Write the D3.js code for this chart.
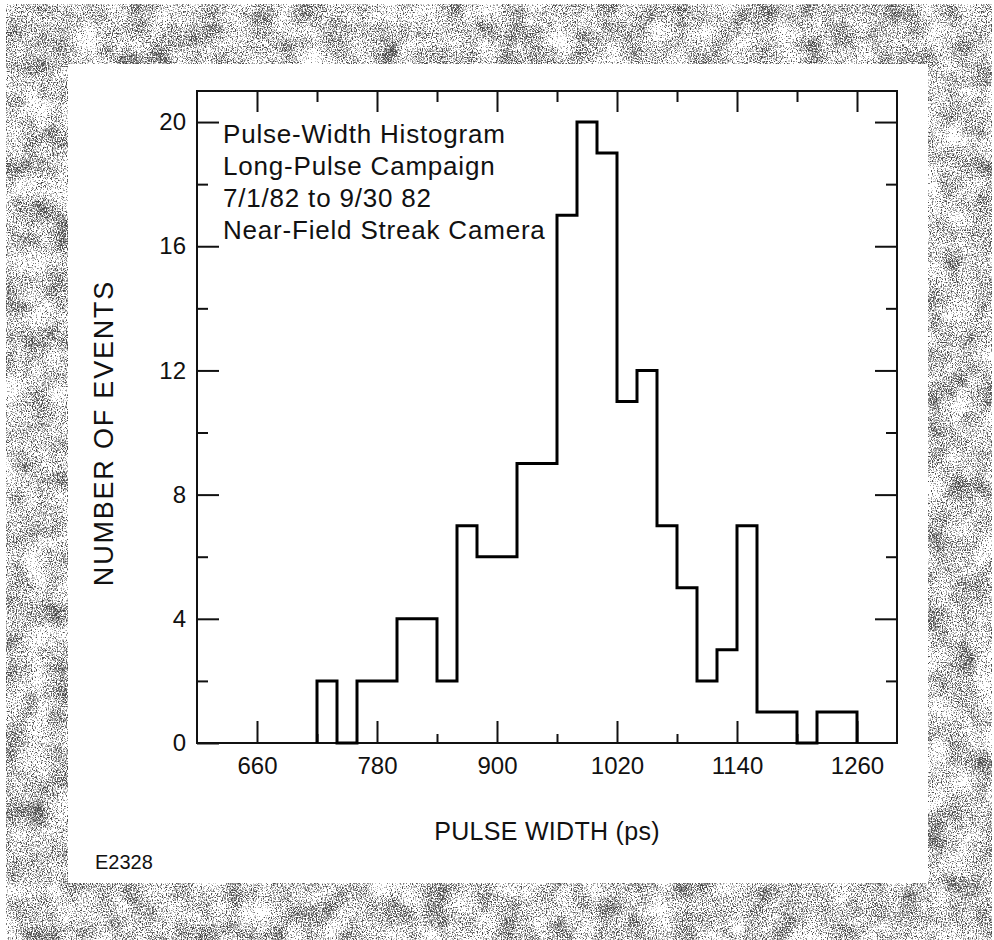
<!DOCTYPE html>
<html>
<head>
<meta charset="utf-8">
<script src="https://cdn.jsdelivr.net/npm/d3@7"></script>
<style>
  html, body { margin: 0; padding: 0; background: #fff; }
  text { font-family: "Liberation Sans", Arial, sans-serif; fill: #111; }
</style>
</head>
<body>
<div id="chart"></div>
<script>
const width = 994;
const height = 940;

// histogram bins: 20 ps wide, start value of each bin
const binStarts = [600, 620, 640, 660, 680, 700, 720, 740, 760, 780, 800, 820, 840, 860, 880, 900, 920, 940,
  960, 980, 1000, 1020, 1040, 1060, 1080, 1100, 1120, 1140, 1160, 1180, 1200, 1220, 1240, 1260, 1280];
const counts = [0, 0, 0, 0, 0, 0, 2, 0, 2, 2, 4, 4, 2, 7, 6, 6, 9, 9,
  17, 20, 19, 11, 12, 7, 5, 2, 3, 7, 1, 1, 0, 1, 1, 0, 0];
const binWidth = 20;

const xMajor = [660, 780, 900, 1020, 1140, 1260];
const xMinor = [720, 840, 960, 1080, 1200];
const yMajor = [0, 4, 8, 12, 16, 20];
const yMinor = [2, 6, 10, 14, 18];
const titleLines = ['Pulse-Width Histogram', 'Long-Pulse Campaign', '7/1/82 to 9/30 82', 'Near-Field Streak Camera'];

const plot = {left: 197, right: 897, top: 91, bottom: 743};

const svg = d3.select('#chart').append('svg')
  .attr('width', width)
  .attr('height', height);

// speckled grey border like the scanned page
const defs = svg.append('defs');
const f = defs.append('filter').attr('id', 'speckle')
  .attr('x', 0).attr('y', 0).attr('width', 1).attr('height', 1)
  .attr('color-interpolation-filters', 'sRGB');
f.append('feTurbulence').attr('type', 'fractalNoise').attr('baseFrequency', 0.8)
  .attr('numOctaves', 2).attr('seed', 3).attr('result', 'fine');
f.append('feTurbulence').attr('type', 'fractalNoise').attr('baseFrequency', 0.04)
  .attr('numOctaves', 2).attr('seed', 9).attr('result', 'coarse');
f.append('feComposite').attr('in', 'fine').attr('in2', 'coarse').attr('operator', 'arithmetic')
  .attr('k1', 0).attr('k2', 0.8).attr('k3', 0.3).attr('k4', -0.05).attr('result', 'mix');
f.append('feColorMatrix').attr('in', 'mix').attr('type', 'matrix')
  .attr('values', '0 0 0 0 0  0 0 0 0 0  0 0 0 0 0  4.5 0 0 0 -1.8').attr('result', 'a');
const ct = f.append('feComponentTransfer').attr('in', 'a');
ct.append('feFuncA').attr('type', 'discrete').attr('tableValues', '0 0.2 0.38 0.52 0.7');

svg.append('rect').attr('width', width).attr('height', height).attr('fill', '#fff');
svg.append('rect').attr('x', 6).attr('y', 4).attr('width', width - 8).attr('height', height - 4)
  .attr('fill', '#000').attr('filter', 'url(#speckle)');
svg.append('rect').attr('x', 68).attr('y', 64).attr('width', 860).attr('height', 819).attr('fill', '#fff');

const x = d3.scaleLinear().domain([600, 1300]).range([plot.left, plot.right]);
const y = d3.scaleLinear().domain([0, 21]).range([plot.bottom, plot.top]);

const g = svg.append('g');

function styleAxis(sel) {
  sel.select('.domain').remove();
  sel.selectAll('line').attr('stroke', '#111').attr('stroke-width', 2);
  sel.selectAll('text').attr('font-size', 24).attr('fill', '#111')
    .style('font-family', '"Liberation Sans", Arial, sans-serif');
}

// bottom
g.append('g').attr('transform', `translate(0,${plot.bottom})`)
  .call(d3.axisBottom(x).tickValues(xMajor).tickSize(-22).tickPadding(14).tickFormat(d3.format('d')))
  .call(styleAxis);
g.append('g').attr('transform', `translate(0,${plot.bottom})`)
  .call(d3.axisBottom(x).tickValues(xMinor).tickSize(-9).tickFormat(''))
  .call(styleAxis);
// top
g.append('g').attr('transform', `translate(0,${plot.top})`)
  .call(d3.axisTop(x).tickValues(xMajor).tickSize(-21).tickFormat(''))
  .call(styleAxis);
g.append('g').attr('transform', `translate(0,${plot.top})`)
  .call(d3.axisTop(x).tickValues(xMinor).tickSize(-11).tickFormat(''))
  .call(styleAxis);
// left
g.append('g').attr('transform', `translate(${plot.left},0)`)
  .call(d3.axisLeft(y).tickValues(yMajor).tickSize(-22).tickPadding(11).tickFormat(d3.format('d')))
  .call(styleAxis);
g.append('g').attr('transform', `translate(${plot.left},0)`)
  .call(d3.axisLeft(y).tickValues(yMinor).tickSize(-11).tickFormat(''))
  .call(styleAxis);
// right
g.append('g').attr('transform', `translate(${plot.right},0)`)
  .call(d3.axisRight(y).tickValues(yMajor.filter(d => d > 0)).tickSize(-22).tickFormat(''))
  .call(styleAxis);
g.append('g').attr('transform', `translate(${plot.right},0)`)
  .call(d3.axisRight(y).tickValues(yMinor).tickSize(-11).tickFormat(''))
  .call(styleAxis);

g.append('rect')
  .attr('x', plot.left).attr('y', plot.top)
  .attr('width', plot.right - plot.left).attr('height', plot.bottom - plot.top)
  .attr('fill', 'none').attr('stroke', '#111').attr('stroke-width', 2);

// histogram outline, from the first to the last non-empty bin
const first = counts.findIndex(c => c > 0);
const last = counts.length - 1 - [...counts].reverse().findIndex(c => c > 0);
const pts = [[binStarts[first], 0]];
for (let i = first; i <= last; i++) pts.push([binStarts[i], counts[i]]);
pts.push([binStarts[last] + binWidth, 0]);

const line = d3.line()
  .x(d => x(d[0]))
  .y(d => y(d[1]))
  .curve(d3.curveStepAfter);

g.append('path')
  .datum(pts)
  .attr('d', line)
  .attr('fill', 'none')
  .attr('stroke', '#000')
  .attr('stroke-width', 3)
  .attr('stroke-linejoin', 'miter');

// legend text block
g.append('g').selectAll('text')
  .data(titleLines)
  .join('text')
  .attr('x', 223)
  .attr('y', (d, i) => 143 + i * 32)
  .attr('font-size', 26)
  .attr('letter-spacing', 0.8)
  .text(d => d);

// axis titles
svg.append('text')
  .attr('x', (plot.left + plot.right) / 2)
  .attr('y', 840)
  .attr('text-anchor', 'middle')
  .attr('font-size', 25)
  .attr('letter-spacing', 0.3)
  .text('PULSE WIDTH (ps)');

svg.append('text')
  .attr('transform', 'translate(113,433) rotate(-90)')
  .attr('text-anchor', 'middle')
  .attr('font-size', 27)
  .attr('letter-spacing', 1.8)
  .text('NUMBER OF EVENTS');

svg.append('text')
  .attr('x', 95)
  .attr('y', 869)
  .attr('font-size', 20)
  .text('E2328');
</script>
</body>
</html>
